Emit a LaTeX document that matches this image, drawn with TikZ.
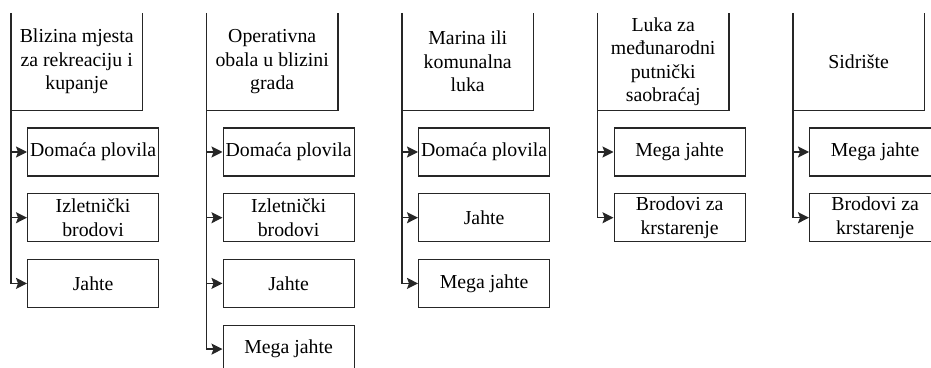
\documentclass[tikz,border=0pt]{standalone}
\usepackage{fontspec}
\setmainfont{Liberation Serif}
\usetikzlibrary{arrows.meta,positioning}

\begin{document}
\begin{tikzpicture}[
    x=1pt, y=1pt,
    node distance=16.5pt,
    head/.style={minimum width=131pt, minimum height=97pt, inner sep=0pt, align=center, anchor=north west, font=\fontsize{19.8}{23.5}\selectfont},
    item/.style={draw=black!85, line width=1.2pt, minimum width=131pt, minimum height=48pt, inner sep=0pt, align=center, font=\fontsize{19.8}{23.5}\selectfont},
    edge/.style={draw=black!85, line width=1.2pt},
    arr/.style={draw=black!85, line width=1.5pt, arrows={-Stealth[length=11pt, width=11pt, inset=2pt]}}
]
\useasboundingbox (0,0) rectangle (931,367);
\clip (0,0) rectangle (931,367);

% Headers
\node[head] (h1) at (11,354) {Blizina mjesta\\za rekreaciju i\\kupanje};
\node[head] (h2) at (206.5,354) {Operativna\\obala u blizini\\grada};
\node[head] (h3) at (402,354) {Marina ili\\komunalna\\luka};
\node[head] (h4) at (597.5,354) {Luka za\\međunarodni\\putnički\\saobraćaj};
\node[head] (h5) at (793,354) {Sidrište};
\foreach \h in {h1,h2,h3,h4,h5}
    \draw[edge] (\h.north west) |- (\h.south east) -- (\h.north east);

% Column 1
\node[item, below right=17pt and 16pt of h1.south west] (a1) {Domaća plovila};
\node[item, below=of a1] (a2) {Izletnički\\brodovi};
\node[item, below=of a2] (a3) {Jahte};

% Column 2
\node[item, below right=17pt and 16pt of h2.south west] (b1) {Domaća plovila};
\node[item, below=of b1] (b2) {Izletnički\\brodovi};
\node[item, below=of b2] (b3) {Jahte};
\node[item, below=of b3] (b4) {Mega jahte};

% Column 3
\node[item, below right=17pt and 16pt of h3.south west] (c1) {Domaća plovila};
\node[item, below=of c1] (c2) {Jahte};
\node[item, below=of c2] (c3) {Mega jahte};

% Column 4
\node[item, below right=17pt and 16pt of h4.south west] (d1) {Mega jahte};
\node[item, below=of d1] (d2) {Brodovi za\\krstarenje};

% Column 5
\node[item, below right=17pt and 16pt of h5.south west] (e1) {Mega jahte};
\node[item, below=of e1] (e2) {Brodovi za\\krstarenje};

% Connectors
\foreach \n in {a1,a2,a3} \draw[arr] (h1.south west) |- (\n.west);
\foreach \n in {b1,b2,b3,b4} \draw[arr] (h2.south west) |- (\n.west);
\foreach \n in {c1,c2,c3} \draw[arr] (h3.south west) |- (\n.west);
\foreach \n in {d1,d2} \draw[arr] (h4.south west) |- (\n.west);
\foreach \n in {e1,e2} \draw[arr] (h5.south west) |- (\n.west);
\end{tikzpicture}
\end{document}
